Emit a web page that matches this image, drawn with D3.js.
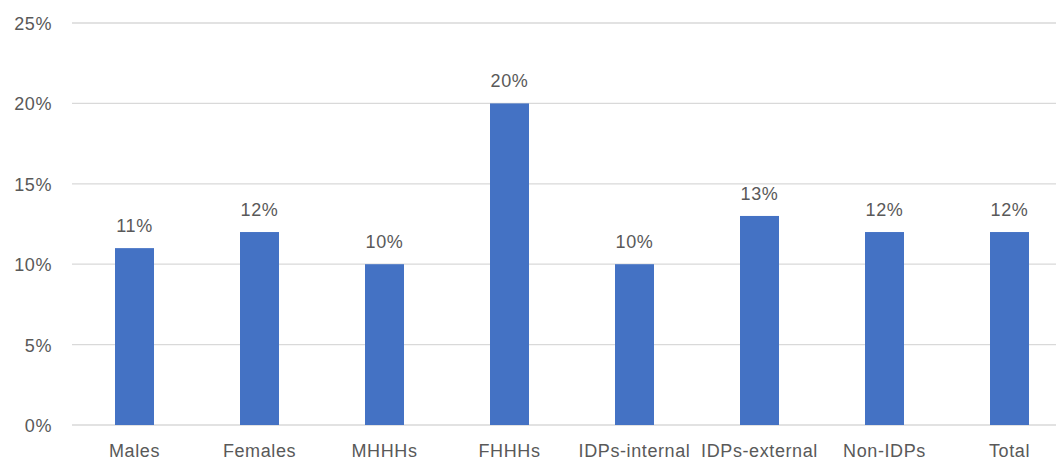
<!DOCTYPE html>
<html>
<head>
<meta charset="utf-8">
<script src="https://cdn.jsdelivr.net/npm/d3@7"></script>
<style>
html,body{margin:0;padding:0;background:#fff;}
svg{display:block;}
text{font-family:"Liberation Sans",Arial,sans-serif;fill:#595959;}
</style>
</head>
<body>
<svg id="chart" width="1056" height="462"></svg>
<script>
const categories = ["Males","Females","MHHHs","FHHHs","IDPs-internal","IDPs-external","Non-IDPs","Total"];
const values = [0.11,0.12,0.10,0.20,0.10,0.13,0.12,0.12];
const yTicks = [0,0.05,0.10,0.15,0.20,0.25];

const svg = d3.select("#chart");
const x = d3.scaleBand().domain(categories).range([72,1072]).paddingInner(0.688).paddingOuter(0.344);
const y = d3.scaleLinear().domain([0,0.25]).range([425,23]);
const fmt = d3.format(".0%");
const FS = 18, LS = "0.6px";

// gridlines
svg.append("g").selectAll("line").data(yTicks).join("line")
  .attr("x1",72).attr("x2",1072)
  .attr("y1",d=>y(d)).attr("y2",d=>y(d))
  .attr("stroke","#d9d9d9").attr("stroke-width",1.3);

// y-axis labels
const yAxis = d3.axisLeft(y).tickValues(yTicks).tickFormat(fmt).tickSize(0).tickPadding(0);
const gy = svg.append("g").attr("transform","translate(52,0)").call(yAxis);
gy.select(".domain").remove();
gy.selectAll("text").attr("font-size",FS).attr("dy","0.36em").style("letter-spacing",LS)
  .style("font-family","Liberation Sans, Arial, sans-serif").attr("fill","#595959");

// bars
svg.append("g").selectAll("rect").data(values).join("rect")
  .attr("x",(d,i)=>x(categories[i]))
  .attr("width",x.bandwidth())
  .attr("y",d=>y(d))
  .attr("height",d=>y(0)-y(d))
  .attr("fill","#4472C4");

// data labels
svg.append("g").selectAll("text").data(values).join("text")
  .attr("x",(d,i)=>x(categories[i])+x.bandwidth()/2)
  .attr("y",d=>y(d)-16)
  .attr("text-anchor","middle")
  .attr("font-size",FS).style("letter-spacing",LS)
  .text(d=>fmt(d));

// x-axis labels
const xAxis = d3.axisBottom(x).tickSize(0).tickPadding(0);
const gx = svg.append("g").attr("transform","translate(0,457)").call(xAxis);
gx.select(".domain").remove();
gx.selectAll("text").attr("font-size",FS).attr("dy",0).attr("y",0).style("letter-spacing",LS)
  .style("font-family","Liberation Sans, Arial, sans-serif").attr("fill","#595959");
</script>
</body>
</html>
